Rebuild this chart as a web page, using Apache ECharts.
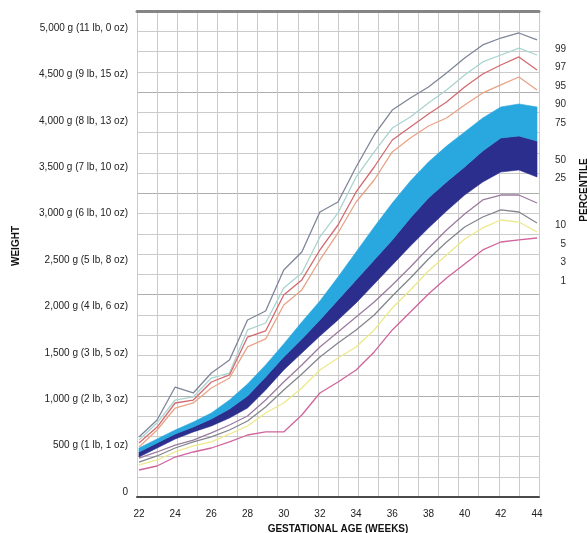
<!DOCTYPE html>
<html><head><meta charset="utf-8">
<script src="https://cdn.jsdelivr.net/npm/echarts@6/dist/echarts.min.js"></script>
<style>html,body{margin:0;padding:0;background:#fff}#c{width:587px;height:533px}</style>
</head><body><div id="c"></div>
<script>
// ---- data ----
const weeks = [22,23,24,25,26,27,28,29,30,31,32,33,34,35,36,37,38,39,40,41,42,43,44];
const xTickValues = [22,24,26,28,30,32,34,36,38,40,42,44];
const yTickValues = [0,500,1000,1500,2000,2500,3000,3500,4000,4500,5000];
const yTickLabels = ['0','500 g (1 lb, 1 oz)','1,000 g (2 lb, 3 oz)','1,500 g (3 lb, 5 oz)','2,000 g (4 lb, 6 oz)','2,500 g (5 lb, 8 oz)','3,000 g (6 lb, 10 oz)','3,500 g (7 lb, 10 oz)','4,000 g (8 lb, 13 oz)','4,500 g (9 lb, 15 oz)','5,000 g (11 lb, 0 oz)'];
const p99 = [593,776,1131,1067,1282,1422,1853,1950,2392,2586,3017,3125,3502,3847,4116,4246,4364,4515,4677,4817,4892,4946,4871];
const p97 = [560,744,991,1024,1228,1282,1746,1821,2198,2360,2748,3007,3394,3664,3922,4041,4192,4332,4494,4634,4709,4784,4709];
const p95 = [528,700,959,991,1185,1261,1670,1735,2123,2285,2608,2877,3233,3502,3793,3933,4073,4203,4364,4504,4601,4688,4547];
const p90 = [485,668,905,959,1121,1228,1563,1649,2015,2177,2500,2791,3125,3362,3664,3815,3944,4030,4170,4300,4386,4472,4332];
const p75 = [474,571,668,754,851,991,1164,1369,1595,1832,2058,2317,2586,2856,3114,3351,3556,3728,3879,4030,4149,4181,4149];
const p50 = [431,528,625,700,787,894,1034,1239,1455,1649,1853,2069,2284,2500,2716,2953,3168,3341,3502,3675,3815,3836,3782];
const p25 = [377,474,571,647,711,797,905,1099,1315,1498,1681,1853,2037,2241,2446,2651,2845,3028,3200,3340,3448,3470,3394];
const p10 = [366,431,506,560,636,722,819,991,1185,1369,1563,1724,1886,2047,2231,2425,2629,2823,2996,3147,3200,3200,3114];
const p5  = [323,388,474,539,593,668,765,916,1099,1272,1455,1606,1746,1907,2112,2306,2511,2694,2856,2963,3039,3017,2899];
const p3  = [291,345,431,496,539,625,711,851,959,1121,1315,1444,1563,1746,1983,2177,2381,2554,2726,2845,2931,2909,2802];
const p1  = [237,280,377,431,474,539,614,647,647,830,1067,1185,1315,1509,1746,1940,2134,2306,2457,2608,2694,2716,2737];
const percentileNames = ['99','97','95','90','75','50','25','10','5','3','1'];

// ---- layout / style ----
const percentileLabelY = [49,67,86,104,123,160,178,225,244,262,281];
const FONT = '"Liberation Sans", Arial, Helvetica, sans-serif';
const lightBlue = '#29a7df', darkBlue = '#2b2e8c';

const pts = arr => weeks.map((w,i)=>[w, arr[i]]);
const lineSeries = (arr, color) => ({
  type:'line', data: pts(arr), symbol:'none', silent:true, z:5,
  lineStyle:{color, width:1.3}
});
// band between two percentile curves, drawn through the axis scales
const bandSeries = (upper, lower, color) => ({
  type:'custom', silent:true, z:3,
  data: weeks.map((w,i)=>[w, lower[i], upper[i]]),
  encode:{x:0, y:[1,2]},
  renderItem:(params, api) => {
    if (params.dataIndex !== 0) return null;
    const top = weeks.map((w,i)=>api.coord([w, upper[i]]));
    const bot = weeks.map((w,i)=>api.coord([w, lower[i]])).reverse();
    return {type:'polygon', shape:{points: top.concat(bot)},
      style:{fill:color, stroke:color, lineWidth:0.6}};
  }
});

const chart = echarts.init(document.getElementById('c'), null, {renderer:'canvas'});
const graphics = percentileNames.map((t,i)=>({
  type:'text', x:566, y:percentileLabelY[i],
  style:{text:t, align:'right', verticalAlign:'middle', font:'10px '+FONT, fill:'#2a2a2a'}
}));
graphics.push({type:'text', x:16, y:246, rotation:Math.PI/2,
  style:{text:'WEIGHT', align:'center', verticalAlign:'middle', font:'bold 10px '+FONT, fill:'#111'}});
graphics.push({type:'text', x:579.5, y:190, rotation:Math.PI/2,
  style:{text:'PERCENTILE', align:'center', verticalAlign:'top', font:'bold 10px '+FONT, fill:'#111'}});

chart.setOption({
  animation:false,
  backgroundColor:'#fff',
  grid:{left:137, right:48, top:11, bottom:36, containLabel:false, outerBoundsMode:'none'},
  xAxis:[
    {type:'value', min:21.89, max:44.11, position:'bottom',
     axisLine:{show:true, onZero:false, lineStyle:{color:'#4a4a4a', width:2}},
     axisTick:{show:false}, splitLine:{show:false},
     axisLabel:{customValues:xTickValues, margin:12, fontSize:10, color:'#222', fontFamily:FONT,
       formatter:v=>String(v)},
     name:'GESTATIONAL AGE (WEEKS)', nameLocation:'middle', nameGap:24,
     nameTextStyle:{fontSize:10, fontWeight:'bold', color:'#111', fontFamily:FONT}, z:6},
    {type:'value', min:0, max:20, interval:1, position:'top',
     axisLine:{show:true, onZero:false, lineStyle:{color:'#858585', width:3}},
     axisTick:{show:false}, axisLabel:{show:false},
     splitLine:{show:true, lineStyle:{color:'#cbcbcb', width:1}}}
  ],
  yAxis:[
    {type:'value', min:-54, max:5183,
     axisLine:{show:false}, axisTick:{show:false}, splitLine:{show:false},
     axisLabel:{customValues:yTickValues, margin:9, fontSize:10, color:'#222', fontFamily:FONT,
       formatter:v=>{const i=yTickValues.indexOf(v); return i>=0?yTickLabels[i]:'';}}},
    {type:'value', min:0, max:24, interval:1, position:'right',
     axisLine:{show:true, onZero:false, lineStyle:{color:'#cbcbcb', width:1}},
     axisTick:{show:false}, axisLabel:{show:false},
     splitLine:{show:true, lineStyle:{color:'#cbcbcb', width:1}}},
    {type:'value', min:0, max:24, interval:5, position:'left',
     axisLine:{show:false}, axisTick:{show:false}, axisLabel:{show:false},
     splitLine:{show:true, lineStyle:{color:'#adadad', width:1.2}}}
  ],
  graphic: graphics,
  series:[
    bandSeries(p50, p25, darkBlue),
    bandSeries(p75, p50, lightBlue),
    lineSeries(p99, '#7f8599'),
    lineSeries(p97, '#a9d4cf'),
    lineSeries(p95, '#d46a6f'),
    lineSeries(p90, '#e9a386'),
    lineSeries(p10, '#9b7b9e'),
    lineSeries(p5,  '#858590'),
    lineSeries(p3,  '#ece98a'),
    lineSeries(p1,  '#d0649c')
  ]
});
</script></body></html>
